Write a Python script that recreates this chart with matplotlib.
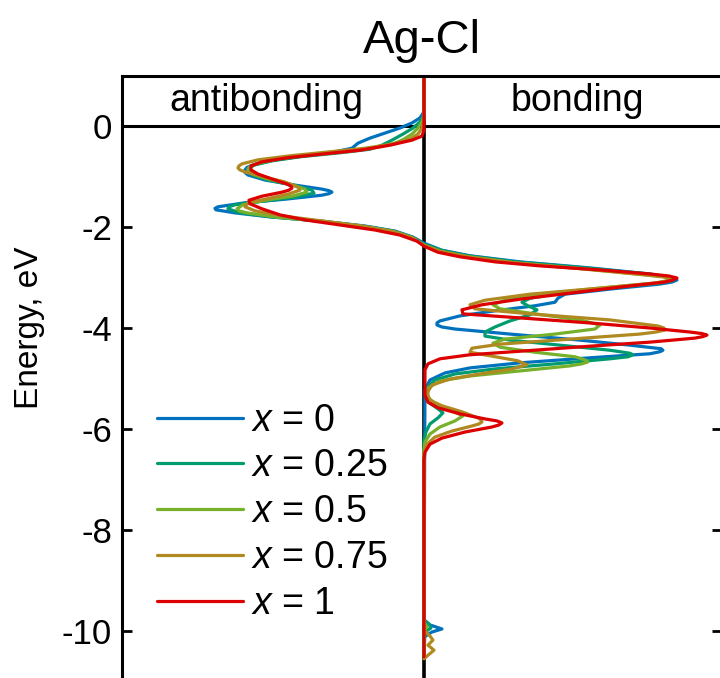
import matplotlib.pyplot as plt

plt.rcParams['font.family'] = ['Liberation Sans', 'DejaVu Sans']
plt.rcParams['mathtext.fontset'] = 'custom'
plt.rcParams['mathtext.it'] = 'Liberation Sans:italic'
plt.rcParams['mathtext.rm'] = 'Liberation Sans'

# --- datos: energia (eV) y -COHP (unid. arb.) ---
etiquetas = ['$x$ = 0', '$x$ = 0.25', '$x$ = 0.5', '$x$ = 0.75', '$x$ = 1']
colores = ['#0072BD', '#009B6E', '#77B02A', '#B08A20', '#DD0000']

E_x0 = [1.0, 0.28, 0.16, 0.06, -0.04, -0.14, -0.24, -0.34, -0.44, -0.51,
        -0.59, -0.67, -0.77, -0.82, -0.87, -0.92, -0.97, -1.07, -1.17, -1.25,
        -1.28, -1.31, -1.34, -1.37, -1.45, -1.52, -1.60, -1.63, -1.66, -1.72,
        -1.80, -1.88, -1.98, -2.08, -2.20, -2.32, -2.46, -2.57, -2.69, -2.81,
        -2.93, -3.01, -3.05, -3.09, -3.13, -3.23, -3.33, -3.41, -3.49, -3.56,
        -3.66, -3.76, -3.86, -3.90, -3.94, -3.98, -4.02, -4.12, -4.24, -4.34,
        -4.41, -4.44, -4.47, -4.51, -4.59, -4.69, -4.79, -4.89, -5.03, -5.23,
        -9.78, -9.88, -9.96, -10.02, -10.12, -10.5]
C_x0 = [0.0, 0.0, -0.04, -0.12, -0.24, -0.39, -0.54, -0.66, -0.72, -0.89,
        -1.19, -1.49, -1.71, -1.77, -1.79, -1.79, -1.76, -1.59, -1.29, -1.02,
        -0.95, -0.92, -0.95, -1.02, -1.39, -1.79, -2.06, -2.09, -2.08, -1.89,
        -1.54, -1.04, -0.59, -0.29, -0.11, 0.0, 0.18, 0.46, 0.96, 1.66,
        2.26, 2.47, 2.53, 2.48, 2.36, 1.86, 1.41, 1.34, 1.31, 1.11,
        0.71, 0.36, 0.16, 0.13, 0.13, 0.18, 0.31, 0.86, 1.56, 2.06,
        2.37, 2.39, 2.36, 2.26, 1.66, 0.96, 0.46, 0.21, 0.06, 0.01,
        0.0, 0.06, 0.18, 0.08, 0.0, 0.0]

E_x025 = [1.0, 0.22, 0.08, -0.04, -0.16, -0.28, -0.38, -0.46, -0.53, -0.61,
          -0.69, -0.77, -0.82, -0.87, -0.92, -0.97, -1.07, -1.17, -1.27, -1.33,
          -1.41, -1.49, -1.56, -1.60, -1.64, -1.72, -1.80, -1.88, -1.98, -2.08,
          -2.20, -2.34, -2.46, -2.57, -2.69, -2.81, -2.93, -2.99, -3.03, -3.07,
          -3.11, -3.21, -3.31, -3.41, -3.49, -3.56, -3.64, -3.74, -3.86, -3.98,
          -4.08, -4.16, -4.24, -4.34, -4.44, -4.50, -4.53, -4.57, -4.61, -4.71,
          -4.81, -4.91, -5.03, -5.19, -5.35, -5.49, -5.60, -5.68, -5.78, -5.90,
          -6.06, -6.22, -9.78, -9.86, -9.94, -10.02, -10.5]
C_x025 = [0.0, 0.0, -0.04, -0.11, -0.21, -0.32, -0.42, -0.54, -0.84, -1.24,
          -1.52, -1.69, -1.74, -1.76, -1.75, -1.72, -1.56, -1.31, -1.12, -1.10,
          -1.29, -1.62, -1.89, -1.95, -1.96, -1.84, -1.52, -1.06, -0.62, -0.31,
          -0.12, 0.0, 0.17, 0.44, 0.91, 1.61, 2.24, 2.45, 2.51, 2.47,
          2.36, 1.86, 1.36, 1.06, 0.98, 1.04, 1.13, 1.06, 0.86, 0.71,
          0.61, 0.61, 0.86, 1.36, 1.86, 2.06, 2.09, 2.04, 1.86, 1.31,
          0.71, 0.31, 0.11, 0.03, 0.02, 0.06, 0.14, 0.19, 0.14, 0.06,
          0.02, 0.0, 0.0, 0.05, 0.07, 0.01, 0.0]

E_x05 = [1.0, 0.22, 0.08, -0.04, -0.16, -0.26, -0.34, -0.42, -0.50, -0.57,
         -0.65, -0.75, -0.80, -0.85, -0.90, -0.95, -1.05, -1.15, -1.25, -1.31,
         -1.39, -1.47, -1.56, -1.64, -1.68, -1.72, -1.80, -1.88, -1.98, -2.08,
         -2.20, -2.36, -2.48, -2.59, -2.71, -2.83, -2.95, -2.99, -3.03, -3.07,
         -3.11, -3.21, -3.33, -3.45, -3.54, -3.62, -3.72, -3.84, -3.94, -4.02,
         -4.12, -4.22, -4.30, -4.38, -4.48, -4.57, -4.63, -4.67, -4.71, -4.75,
         -4.85, -4.95, -5.05, -5.19, -5.37, -5.50, -5.62, -5.74, -5.84, -5.96,
         -6.10, -6.26, -6.42, -9.82, -9.92, -10.0, -10.5]
C_x05 = [0.0, 0.0, -0.02, -0.06, -0.12, -0.20, -0.29, -0.46, -0.74, -1.14,
         -1.46, -1.68, -1.74, -1.76, -1.75, -1.72, -1.56, -1.34, -1.19, -1.17,
         -1.32, -1.59, -1.81, -1.87, -1.85, -1.77, -1.49, -1.06, -0.64, -0.32,
         -0.13, 0.0, 0.16, 0.44, 0.91, 1.61, 2.24, 2.43, 2.49, 2.44,
         2.31, 1.76, 1.16, 0.81, 0.69, 0.76, 1.11, 1.56, 1.76, 1.71,
         1.31, 0.81, 0.69, 0.76, 1.11, 1.51, 1.61, 1.64, 1.58, 1.46,
         0.96, 0.46, 0.16, 0.04, 0.04, 0.11, 0.26, 0.39, 0.31, 0.16,
         0.06, 0.01, 0.0, 0.0, 0.03, 0.0, 0.0]

E_x075 = [1.0, 0.12, -0.04, -0.16, -0.26, -0.36, -0.44, -0.51, -0.59, -0.67,
          -0.75, -0.79, -0.83, -0.87, -0.91, -1.01, -1.11, -1.21, -1.27, -1.35,
          -1.45, -1.52, -1.60, -1.68, -1.78, -1.88, -1.98, -2.10, -2.22, -2.36,
          -2.48, -2.59, -2.71, -2.83, -2.95, -2.99, -3.03, -3.07, -3.11, -3.21,
          -3.33, -3.45, -3.54, -3.62, -3.72, -3.84, -3.96, -4.00, -4.04, -4.08,
          -4.12, -4.22, -4.32, -4.40, -4.48, -4.55, -4.65, -4.73, -4.81, -4.91,
          -5.01, -5.13, -5.29, -5.43, -5.54, -5.66, -5.78, -5.82, -5.86, -5.90,
          -5.94, -6.04, -6.16, -6.30, -6.46, -9.98, -10.10, -10.18, -10.28, -10.38,
          -10.48, -10.55]
C_x075 = [0.0, 0.0, -0.02, -0.06, -0.14, -0.32, -0.59, -0.94, -1.34, -1.66,
          -1.82, -1.85, -1.86, -1.84, -1.79, -1.59, -1.39, -1.26, -1.24, -1.36,
          -1.59, -1.76, -1.79, -1.69, -1.42, -1.02, -0.62, -0.29, -0.11, 0.0,
          0.16, 0.44, 0.91, 1.59, 2.21, 2.40, 2.46, 2.42, 2.31, 1.76,
          1.06, 0.61, 0.46, 0.51, 1.06, 1.86, 2.34, 2.40, 2.41, 2.32,
          2.16, 1.46, 0.76, 0.48, 0.46, 0.66, 0.94, 1.03, 0.88, 0.56,
          0.26, 0.08, 0.03, 0.06, 0.18, 0.38, 0.54, 0.57, 0.58, 0.55,
          0.48, 0.28, 0.11, 0.03, 0.0, 0.0, 0.06, 0.09, 0.04, 0.10,
          0.04, 0.0]

E_x1 = [1.0, -0.08, -0.20, -0.28, -0.38, -0.48, -0.55, -0.63, -0.71, -0.79,
        -0.87, -0.95, -1.05, -1.15, -1.19, -1.23, -1.27, -1.31, -1.39, -1.47,
        -1.54, -1.64, -1.76, -1.86, -1.96, -2.06, -2.16, -2.28, -2.38, -2.50,
        -2.59, -2.69, -2.77, -2.85, -2.93, -2.97, -3.01, -3.05, -3.09, -3.19,
        -3.31, -3.43, -3.54, -3.64, -3.72, -3.80, -3.90, -4.00, -4.08, -4.11,
        -4.14, -4.17, -4.20, -4.28, -4.36, -4.46, -4.53, -4.61, -4.71, -4.83,
        -5.33, -5.47, -5.58, -5.70, -5.80, -5.84, -5.88, -5.92, -5.96, -6.06,
        -6.18, -6.30, -6.46, -6.61, -10.51]
C_x1 = [0.0, 0.0, -0.02, -0.12, -0.34, -0.64, -0.99, -1.37, -1.62, -1.73,
        -1.73, -1.66, -1.52, -1.37, -1.33, -1.32, -1.35, -1.42, -1.62, -1.75,
        -1.74, -1.62, -1.44, -1.19, -0.84, -0.49, -0.24, -0.07, 0.0, 0.14,
        0.36, 0.71, 1.16, 1.76, 2.26, 2.45, 2.53, 2.49, 2.41, 1.96,
        1.46, 0.96, 0.58, 0.38, 0.39, 0.96, 1.66, 2.26, 2.66, 2.78,
        2.83, 2.79, 2.71, 2.26, 1.66, 0.96, 0.46, 0.16, 0.04, 0.01,
        0.01, 0.04, 0.14, 0.36, 0.61, 0.73, 0.78, 0.75, 0.68, 0.41,
        0.18, 0.06, 0.01, 0.0, 0.0]

energias = [E_x0, E_x025, E_x05, E_x075, E_x1]
cohps = [C_x0, C_x025, C_x05, C_x075, C_x1]

fig = plt.figure(figsize=(7.2, 6.78), dpi=100)
ax = fig.add_axes([0.1694, -0.00516, 0.8333, 0.8938])

ax.axvline(0, color='black', lw=2.6, zorder=1)
ax.axhline(0, color='black', lw=2.2, zorder=1)

for E, c, col, lab in zip(energias, cohps, colores, etiquetas):
    ax.plot(c, E, color=col, lw=2.3, label=lab, zorder=2,
            solid_joinstyle='round', solid_capstyle='round')

ax.set_xlim(-3.02, 2.98)
ax.set_ylim(-11, 1)
ax.set_yticks([0, -2, -4, -6, -8, -10])
ax.set_yticklabels(['0', '-2', '-4', '-6', '-8', '-10'])
ax.set_xticks([])
ax.tick_params(axis='y', direction='in', length=7, width=2.0, labelsize=25,
               pad=7, left=True, right=True)
for s in ax.spines.values():
    s.set_linewidth(2.2)

ax.set_ylabel('Energy, eV', fontsize=24)
ax.yaxis.set_label_coords(-0.128, 0.583)
ax.set_title('Ag-Cl', fontsize=34, pad=16)

ax.text(-1.58, 0.5, 'antibonding', fontsize=27, ha='center', va='center')
ax.text(1.53, 0.5, 'bonding', fontsize=27, ha='center', va='center')

ax.legend(loc='upper left', bbox_to_anchor=(0.058, 0.46), frameon=False, fontsize=27,
          handlelength=2.3, handletextpad=0.2, labelspacing=0.26, borderaxespad=0,
          borderpad=0)

fig.savefig('out.png', dpi=100)
